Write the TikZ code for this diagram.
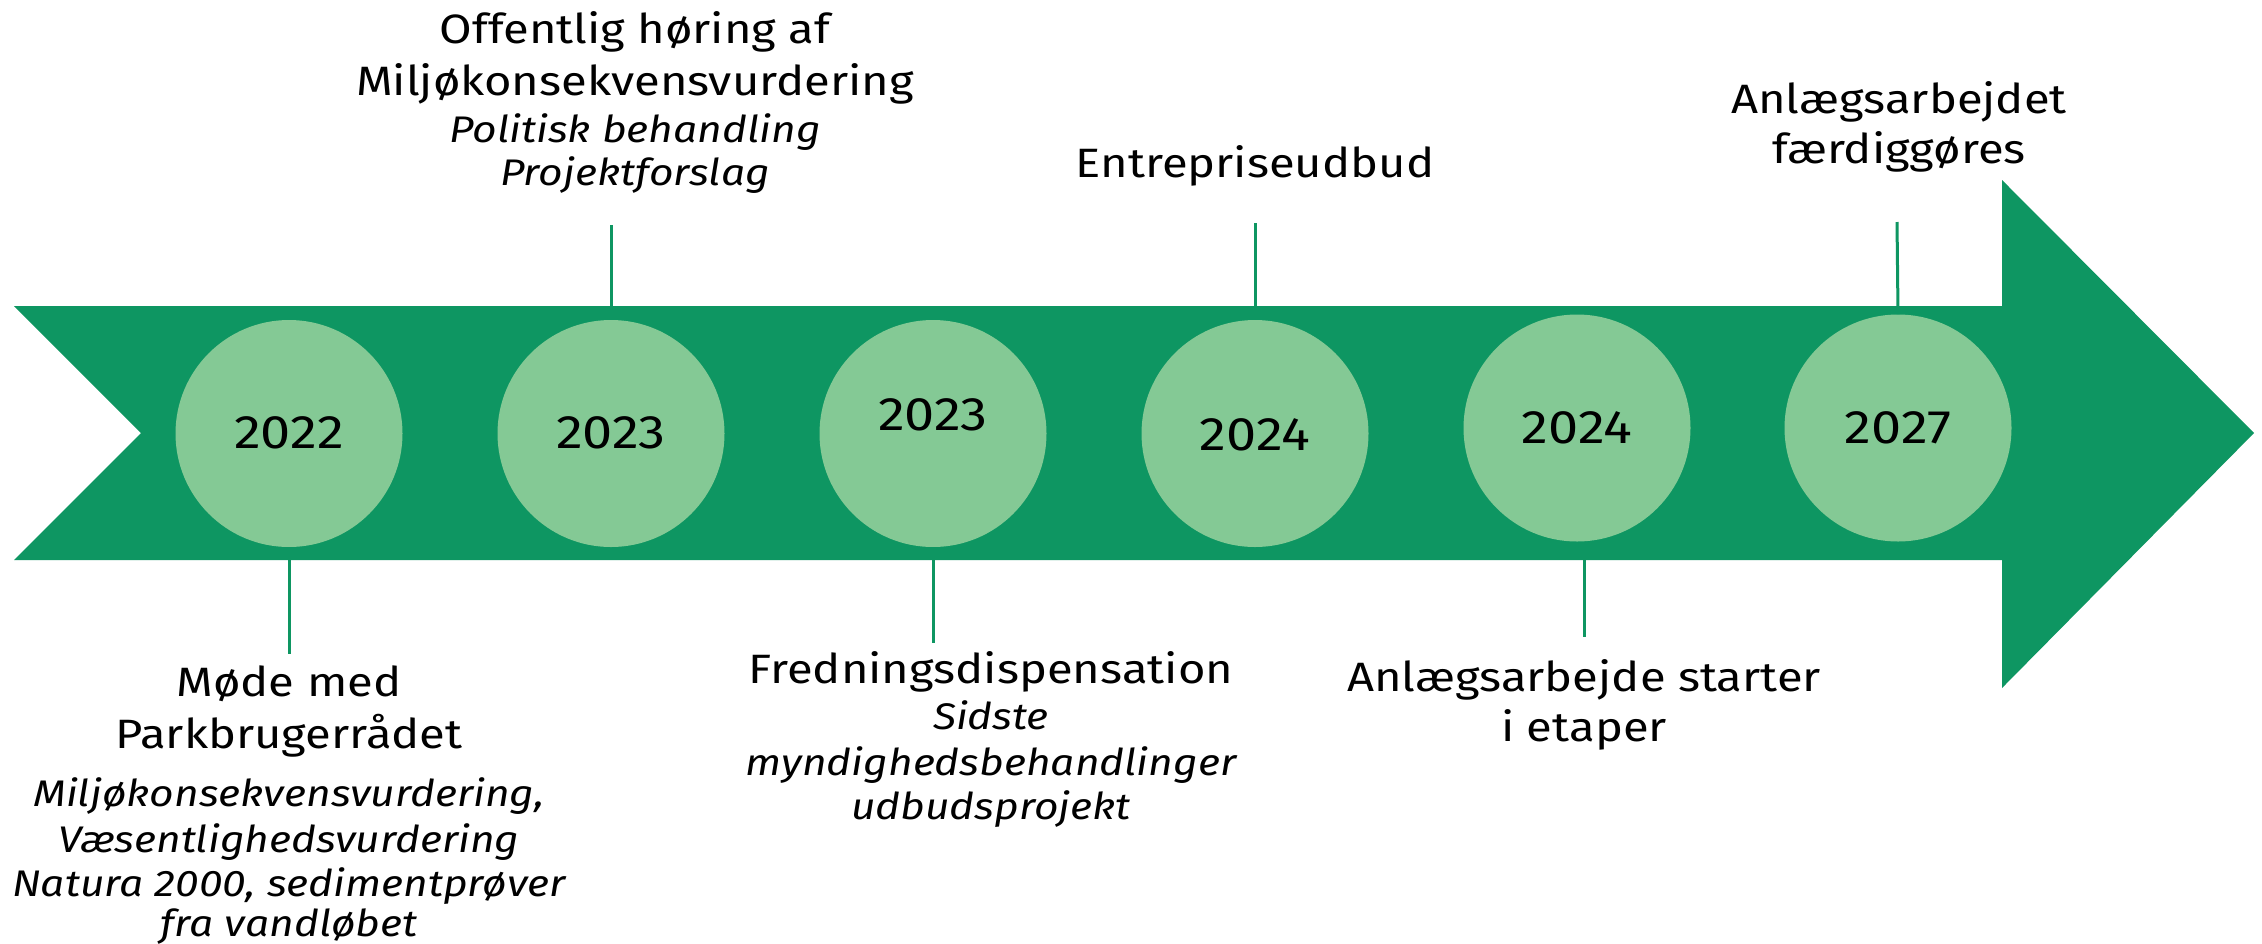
\documentclass[tikz,border=0pt]{standalone}
\usepackage{fontspec}
\setmainfont{Fira Sans}[FakeStretch=1.15]
\definecolor{dkgreen}{HTML}{0E9662}
\definecolor{ltgreen}{HTML}{84C995}
\begin{document}
\begin{tikzpicture}[x=0.5pt,y=-0.5pt,
  head/.style={font=\fontsize{20.5}{25}\selectfont, anchor=base, inner sep=0},
  sub/.style={font=\fontsize{18.5}{22}\selectfont\itshape, anchor=base, inner sep=0},
  year/.style={font=\fontsize{23.5}{26}\selectfont, anchor=base, inner sep=0},
  disc/.style={circle, fill=ltgreen, minimum size=113.5pt, inner sep=0},
  tick/.style={draw=dkgreen, line width=1.5pt}]
\fill[white] (0,0) rectangle (2262,943);
\useasboundingbox (0,0) rectangle (2262,943);
% arrow band
\fill[dkgreen] (14,306) -- (2002,306) -- (2002,180) -- (2254,433) -- (2002,688) -- (2002,560) -- (14,560) -- (141,433) -- cycle;
% discs
\node[disc] (c1) at (289,433.5) {};
\node[disc] (c2) at (611,433.5) {};
\node[disc] (c3) at (933,433.5) {};
\node[disc] (c4) at (1255,433.5) {};
\node[disc] (c5) at (1577,428) {};
\node[disc] (c6) at (1898,428) {};
\node[year] (y1) at (289,448) {2022};
\node[year] (y2) at (611,448) {2023};
\node[year] (y3) at (933,430) {2023};
\node[year] (y4) at (1255,450) {2024};
\node[year] (y5) at (1577,443) {2024};
\node[year] (y6) at (1898,443) {2027};
% ticks
\coordinate (l1) at (289,654);
\coordinate (l2) at (611,225);
\coordinate (l3) at (933,643);
\coordinate (l4) at (1255,223);
\coordinate (l5) at (1584,637);
\coordinate (l6) at (1897,222);
\draw[tick] (c1.south) -- (l1);
\draw[tick] (c2.north) -- (l2);
\draw[tick] (c3.south) -- (l3);
\draw[tick] (c4.north) -- (l4);
\draw[tick] (l5 |- c5.south) -- (l5);
\draw[tick] (c6.north) -- (l6);
% top labels
\node[head] (t2a) at (635,43) {Offentlig høring af};
\node[head] (t2b) at (635,95) {Miljøkonsekvensvurdering};
\node[sub] (t2c) at (635,142) {Politisk behandling};
\node[sub] (t2d) at (635,185) {Projektforslag};
\node[head] (t4) at (1255,177) {Entrepriseudbud};
\node[head] (t6a) at (1899,113) {Anlægsarbejdet};
\node[head] (t6b) at (1899,163) {færdiggøres};
% bottom labels
\node[head] (t1a) at (289,696) {Møde med};
\node[head] (t1b) at (289,748) {Parkbrugerrådet};
\node[sub] (t1c) at (289,806) {Miljøkonsekvensvurdering,};
\node[sub] (t1d) at (289,852) {Væsentlighedsvurdering};
\node[sub] (t1e) at (289,896) {Natura 2000, sedimentprøver};
\node[sub] (t1f) at (289,936) {fra vandløbet};
\node[head] (t3a) at (991,683) {Fredningsdispensation};
\node[sub] (t3b) at (991,729) {Sidste};
\node[sub] (t3c) at (991,775) {myndighedsbehandlinger};
\node[sub] (t3d) at (991,819) {udbudsprojekt};
\node[head] (t5a) at (1584,691) {Anlægsarbejde starter};
\node[head] (t5b) at (1584,741) {i etaper};
\end{tikzpicture}
\end{document}
